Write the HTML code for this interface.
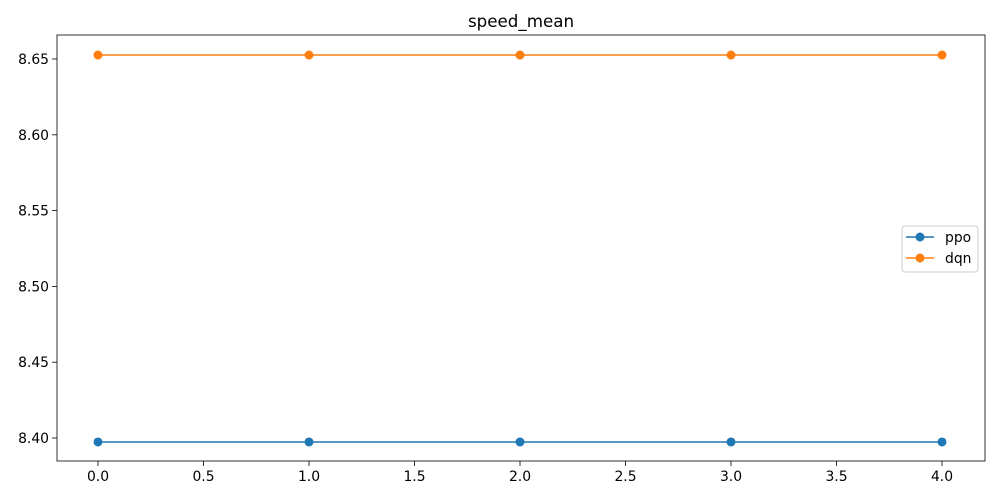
<!DOCTYPE html>
<html><head><meta charset="utf-8"><style>
body{margin:0;background:#fff;font-family:"DejaVu Sans","Liberation Sans",sans-serif}
svg text{font-family:"DejaVu Sans","Liberation Sans",sans-serif}
</style></head><body>
<svg id="chart" width="1000" height="500" xmlns="http://www.w3.org/2000/svg"></svg>
<script>
const xValues=[0,1,2,3,4];
const ppoValues=[8.3974,8.3974,8.3974,8.3974,8.3974];
const dqnValues=[8.6526,8.6526,8.6526,8.6526,8.6526];
const xTicks=[0,0.5,1,1.5,2,2.5,3,3.5,4];
const xTickLabels=["0.0","0.5","1.0","1.5","2.0","2.5","3.0","3.5","4.0"];
const yTicks=[8.40,8.45,8.50,8.55,8.60,8.65];
const yTickLabels=["8.40","8.45","8.50","8.55","8.60","8.65"];

const svg=document.getElementById('chart');
const NS='http://www.w3.org/2000/svg';
const L=57,R=985,T=35,B=461;
const xs=v=>98+(v-0)*(942-98)/4;
const ys=v=>438-(v-8.40)*(438-59)/0.25;
function mk(tag,attrs,parent){const e=document.createElementNS(NS,tag);for(const k in attrs)e.setAttribute(k,attrs[k]);(parent||svg).appendChild(e);return e;}

const title=mk('text',{x:(L+R)/2,y:27,'text-anchor':'middle','font-size':16.7,fill:'#000'});
title.textContent='speed_mean';



xTicks.forEach((t,i)=>{
  const x=xs(t);
  const tk=mk('line',{x1:x,x2:x,y1:B,y2:B+5,stroke:'#000','stroke-width':0.8});
  
  
  const lb=mk('text',{x:x,y:B+20,'text-anchor':'middle','font-size':13.9,fill:'#000'});
  lb.textContent=xTickLabels[i];
  
  
});
yTicks.forEach((t,i)=>{
  const y=ys(t);
  const tk=mk('line',{x1:L-5,x2:L,y1:y,y2:y,stroke:'#000','stroke-width':0.8});
  
  
  const lb=mk('text',{x:L-8,y:y+5,'text-anchor':'end','font-size':13.9,fill:'#000'});
  lb.textContent=yTickLabels[i];
  
  
});

function series(vals,color,name){
  const g=mk('g',{});
  
  
  mk('polyline',{points:vals.map((v,i)=>xs(xValues[i])+','+ys(v)).join(' '),fill:'none',stroke:color,'stroke-width':1.5},g);
  vals.forEach((v,i)=>{
    const c=mk('circle',{cx:xs(xValues[i]),cy:ys(v),r:4.5,fill:color},g);
    
    
  });
}
series(ppoValues,'#1f77b4','ppo');
series(dqnValues,'#ff7f0e','dqn');

const frame=mk('rect',{x:L,y:T,width:R-L,height:B-T,fill:'none',stroke:'#000','stroke-width':0.8});



const lg=mk('g',{});


mk('rect',{x:902,y:226,width:76,height:46,rx:3,fill:'#fff',stroke:'#ccc','stroke-width':1},lg);
[['ppo','#1f77b4',237],['dqn','#ff7f0e',258]].forEach(([n,c,y])=>{
  const e=mk('g',{},lg);
  
  
  mk('line',{x1:906,x2:934,y1:y,y2:y,stroke:c,'stroke-width':1.5},e);
  mk('circle',{cx:920,cy:y,r:4.5,fill:c},e);
  const t=mk('text',{x:945,y:y+5,'font-size':13.9,fill:'#000'},e);
  t.textContent=n;
});
</script>
</body></html>
